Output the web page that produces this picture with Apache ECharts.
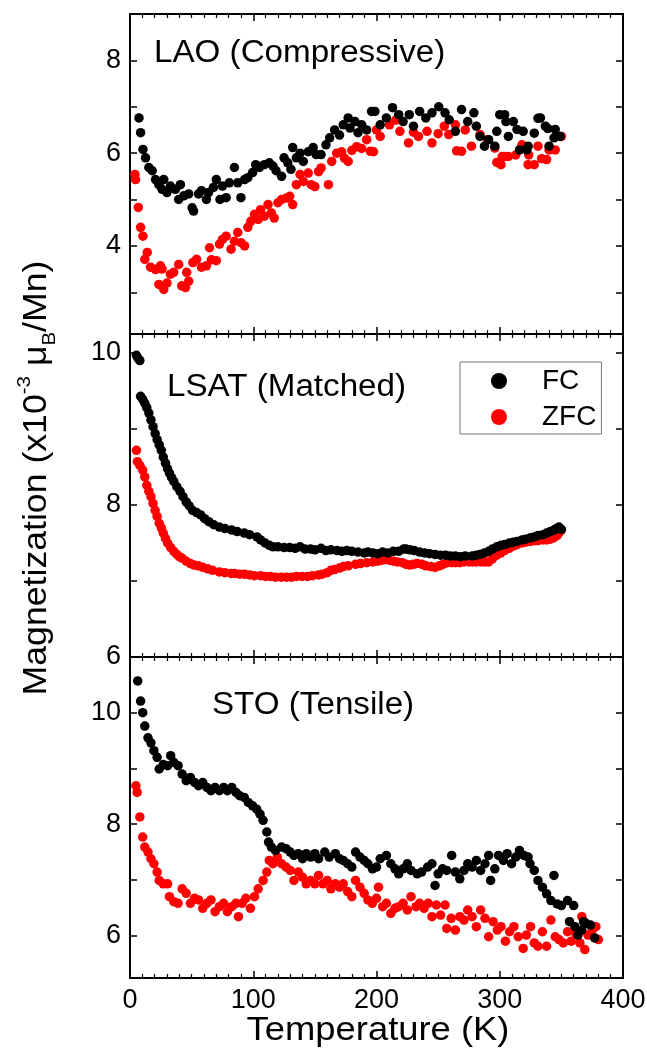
<!DOCTYPE html>
<html>
<head>
<meta charset="utf-8">
<script src="https://cdn.jsdelivr.net/npm/echarts@6/dist/echarts.min.js"></script>
<style>html,body{margin:0;padding:0;background:#fff}#c{width:647px;height:1051px}</style>
</head>
<body>
<div id="c"></div>
<script>
// ---- data: [Temperature (K), Magnetization (x10^-3 muB/Mn)] ----
const xTicks = [0, 100, 200, 300, 400];
const panelNames = ['LAO (Compressive)', 'LSAT (Matched)', 'STO (Tensile)'];

const laoFC = [[7.3,6.76],[8.6,6.44],[10.5,6.08],[12.6,5.9],[15.3,5.69],[18,5.62],[20.7,5.43],[23.4,5.32],[26,5.22],[27.4,5.43],[30,5.15],[32.8,5.29],[36.8,5.22],[39.5,5.0],[40.9,5.32],[43.6,5.08],[47.6,5.12],[50.4,4.82],[51.6,4.75],[55.6,5.12],[58,5.19],[62,5.0],[63.7,5.15],[67.7,5.26],[70,5.43],[73,5.0],[75,5.29],[78,5.04],[80.6,5.36],[84.7,5.69],[87.4,5.36],[90,5.04],[93,5.43],[95.6,5.47],[99.5,5.58],[102,5.75],[105,5.69],[109,5.75],[113,5.79],[116,5.72],[118.5,5.62],[123,5.5],[125,5.9],[128,5.79],[130.6,5.65],[132,6.12],[135,5.9],[138,6.0],[140.6,5.82],[144.6,6.03],[148.6,6.12],[151,5.97],[155,5.97],[159,6.18],[162,6.33],[166,6.5],[170,6.39],[173,6.61],[177,6.76],[178.5,6.54],[182.5,6.68],[185,6.44],[188,6.61],[192,6.5],[196,6.9],[198.7,6.9],[203,6.61],[208,6.76],[213,6.98],[218,6.83],[221.6,6.68],[226.6,6.83],[230,6.58],[235,6.9],[240,6.76],[245,6.87],[250.5,7.0],[255.6,6.87],[259,6.72],[264,6.47],[269,6.94],[274,6.68],[279,6.87],[281,6.58],[284,6.36],[287.6,6.15],[291,6.29],[296,6.15],[297.6,6.47],[300,6.83],[304,6.83],[305,6.68],[307,6.36],[311,6.68],[314,6.51],[316,6.07],[319,6.47],[322,6.07],[323,6.15],[328,6.43],[331,6.75],[333,6.76],[337,6.58],[339,6.53],[340,6.15],[344,6.33],[345,6.51],[349,6.36]];

const laoZFC = [[4,5.54],[4.5,5.43],[6.7,4.83],[8.6,4.4],[10.5,4.21],[12,3.71],[14,3.86],[16.7,3.54],[20.7,3.49],[23.4,3.17],[24.7,3.57],[26,3.5],[27.4,3.06],[30,3.2],[32.8,3.39],[35.5,3.43],[39.5,3.6],[42,3.14],[45,3.1],[46,3.43],[47.6,3.24],[51,3.64],[54,3.71],[58,3.54],[62,3.57],[64.5,3.96],[66,3.7],[70,3.68],[72.6,4.04],[75,4.14],[78,4.21],[82,3.93],[84.7,4.1],[87.4,4.29],[90,4.07],[93,4.0],[95.6,4.4],[98,4.53],[101,4.68],[104,4.57],[106,4.78],[109,4.64],[112,4.89],[114.7,4.71],[117,4.6],[120,4.93],[123,5.0],[127,5.03],[129.6,5.07],[132,4.89],[135,5.32],[138,5.54],[140.6,5.39],[144.6,5.57],[147,5.32],[150,5.28],[153,5.6],[155,5.68],[161,5.32],[163.7,5.82],[167.7,6.0],[171.7,6.03],[174,5.89],[177,5.82],[180,6.06],[184,6.14],[188,6.1],[192,6.29],[195,6.04],[197.6,6.03],[200,6.5],[203,6.36],[210.5,6.61],[215.6,6.71],[219,6.47],[226,6.22],[230,6.45],[234,6.36],[241,6.47],[245,6.22],[250,6.42],[255,6.58],[258.6,6.4],[264,6.61],[265,6.05],[269,6.04],[272,6.5],[277,6.15],[284,6.4],[290,6.29],[296,6.11],[297.6,5.8],[301,5.75],[302,5.93],[304,5.93],[307,5.93],[313,5.96],[318,6.18],[323,5.75],[323.5,5.96],[328,5.75],[331,6.15],[334,5.88],[338,5.86],[340,6.07],[345,6.07],[350,6.36]];

const lsatFC = [[5.2,9.97],[6.5,9.93],[8,9.9],[8.6,9.43],[10.3,9.39],[12,9.34],[13.6,9.28],[15.3,9.21],[17,9.12],[18.7,9.03],[20.4,8.94],[22,8.86],[23.7,8.79],[25.4,8.72],[27,8.63],[28.8,8.55],[30.4,8.48],[32,8.42],[33.8,8.36],[35.5,8.31],[38,8.24],[40.6,8.18],[43,8.11],[45.6,8.04],[48,7.99],[50.7,7.93],[54,7.9],[57.4,7.87],[60.5,7.82],[64,7.78],[68,7.74],[72.5,7.71],[77,7.69],[82.6,7.67],[87,7.65],[92.7,7.63],[97,7.61],[103,7.58],[106,7.54],[109.6,7.5],[113,7.47],[116,7.45],[120,7.45],[125,7.44],[129.6,7.44],[134,7.43],[138,7.45],[142,7.42],[146.4,7.42],[150,7.41],[155,7.43],[159,7.4],[163,7.41],[168,7.4],[172,7.39],[176,7.4],[180,7.39],[185,7.38],[190,7.37],[193,7.38],[197,7.37],[201,7.36],[205,7.38],[209,7.37],[213.6,7.39],[218,7.39],[222,7.42],[224,7.42],[227,7.41],[230.6,7.4],[235,7.38],[239,7.37],[243,7.36],[247.5,7.35],[252,7.34],[256,7.34],[260,7.33],[264,7.33],[268,7.32],[272,7.33],[277.6,7.33],[281,7.34],[284,7.35],[287.6,7.37],[291,7.39],[294,7.42],[297.6,7.45],[301,7.47],[304,7.48],[307.7,7.5],[311,7.51],[314,7.52],[318,7.54],[321,7.55],[325,7.57],[328,7.58],[331,7.6],[335,7.61],[338,7.63],[341,7.65],[344,7.67],[346,7.69],[348,7.71],[350,7.68]];

const lsatZFC = [[5.2,8.72],[6,8.57],[8,8.52],[10.3,8.46],[12,8.37],[13.6,8.26],[15.3,8.18],[17,8.11],[18.7,8.02],[20.4,7.93],[22,7.85],[23.7,7.76],[25.4,7.7],[27,7.63],[28.8,7.56],[30.5,7.5],[33,7.44],[35.5,7.39],[38,7.35],[40,7.32],[42.3,7.3],[45.6,7.26],[49,7.23],[52,7.21],[55.5,7.2],[59,7.18],[63,7.16],[67,7.14],[72.5,7.12],[77,7.11],[82,7.1],[85,7.1],[89,7.09],[93,7.09],[97,7.08],[101,7.07],[106,7.07],[110,7.06],[114,7.06],[118,7.05],[122.6,7.05],[127,7.05],[131,7.05],[135,7.06],[139.6,7.06],[144,7.06],[148,7.07],[153,7.08],[156,7.09],[160,7.11],[163,7.14],[166,7.15],[170,7.17],[173,7.19],[177,7.2],[183,7.22],[187,7.23],[192,7.24],[197,7.25],[201,7.26],[204,7.27],[207,7.28],[211,7.27],[214,7.26],[217,7.25],[221,7.24],[224,7.22],[227,7.21],[230,7.22],[233,7.23],[237,7.22],[240,7.2],[244,7.19],[247.5,7.18],[251,7.2],[254,7.22],[257.6,7.24],[261,7.24],[264,7.24],[267.6,7.24],[271,7.25],[275,7.25],[278,7.25],[281,7.25],[285,7.25],[288,7.25],[291,7.25],[294,7.29],[297.6,7.34],[301,7.37],[304,7.4],[307.7,7.43],[311,7.46],[314,7.48],[318,7.5],[321,7.51],[325,7.52],[328,7.53],[331,7.53],[335,7.54],[338,7.54],[341,7.55],[344,7.57],[346.6,7.6],[348,7.63],[350,7.67]];

const stoFC = [[6.25,10.57],[8.6,10.21],[10.3,10.0],[12,9.76],[14.6,9.55],[17,9.46],[19.4,9.32],[22,9.2],[23.7,8.99],[27,9.07],[30.5,9.05],[33,9.23],[35.5,9.11],[39,9.05],[42.3,8.9],[45.6,8.78],[49,8.84],[52.4,8.75],[55.6,8.69],[59,8.75],[62.4,8.66],[65.7,8.6],[69,8.66],[72.5,8.6],[76,8.66],[79,8.6],[82.6,8.66],[86,8.57],[89,8.51],[92.7,8.48],[96,8.39],[99.5,8.33],[102.8,8.27],[105.5,8.18],[108,8.07],[111,7.86],[112.4,7.68],[114.7,7.59],[118,7.53],[123,7.59],[126.6,7.56],[130,7.5],[133,7.44],[136.6,7.47],[140,7.38],[143,7.47],[146.6,7.41],[150,7.47],[153,7.38],[158,7.5],[161.6,7.41],[166.6,7.47],[170,7.38],[173,7.35],[176.6,7.29],[180,7.23],[183,7.5],[186.6,7.41],[190,7.35],[193,7.29],[196.7,7.2],[200,7.23],[203,7.38],[208,7.44],[211.6,7.29],[215,7.2],[218,7.11],[221.6,7.2],[225,7.29],[228,7.17],[233,7.11],[236.6,7.14],[241.5,7.23],[245,7.29],[247.5,6.9],[250,7.11],[253.6,7.2],[257,7.17],[261,7.44],[264,7.14],[267.6,7.02],[271,7.17],[274,7.29],[277.6,7.23],[281,7.35],[284.5,7.17],[288,7.29],[291,7.44],[292.6,6.99],[296,7.2],[299,7.44],[303,7.35],[306,7.47],[309.6,7.29],[313,7.41],[316,7.53],[319.6,7.44],[323,7.41],[324.6,7.29],[328,7.17],[331,6.99],[334.6,6.87],[338,6.75],[341.5,6.63],[344,7.08],[346.6,6.57],[350,6.54],[355,6.63],[356.6,6.25],[360,6.54],[361,6.16],[363.5,6.01],[366.6,6.1],[368,6.25],[370,6.22],[373.6,6.19],[377,5.96]];

const stoZFC = [[4.8,8.69],[5.8,8.57],[8,8.13],[10.3,7.77],[12,7.59],[14.6,7.5],[17,7.38],[19.4,7.29],[22,7.14],[23.7,6.99],[27,6.93],[30.5,6.93],[32,6.7],[35.5,6.61],[39,6.58],[42.3,6.84],[45.6,6.76],[49,6.58],[52.4,6.67],[55.6,6.64],[59,6.49],[62.4,6.58],[65.7,6.64],[69,6.43],[72.5,6.52],[76,6.58],[79,6.43],[82.6,6.52],[86,6.58],[88,6.34],[91,6.58],[94,6.67],[97.7,6.49],[101,6.7],[104,6.84],[108,6.99],[111,7.14],[113,7.35],[116,7.29],[119.5,7.41],[123,7.29],[126.6,7.23],[130,7.17],[133,6.99],[136.6,7.14],[140,7.05],[143,6.93],[146.6,6.99],[150,6.93],[153,7.08],[156.6,6.93],[160,6.99],[163,6.84],[166.6,6.93],[170,6.87],[173,6.93],[176.6,6.79],[180,6.7],[183,6.99],[186.6,6.87],[190,6.76],[193,6.64],[196.6,6.58],[200,6.67],[201.6,6.87],[205,6.52],[208,6.58],[211.6,6.4],[215,6.49],[218,6.52],[221.6,6.58],[225,6.46],[228,6.7],[232,6.52],[235,6.58],[238.6,6.49],[242,6.58],[245,6.34],[248.6,6.55],[252,6.37],[255.6,6.55],[257,6.13],[260.6,6.31],[264,6.1],[267.6,6.34],[271,6.28],[274,6.46],[277.6,6.34],[281,6.16],[284.5,6.46],[288,6.31],[291,5.98],[294.6,6.25],[298,6.1],[301,6.16],[304.6,5.9],[308,6.07],[311.5,6.16],[315,5.98],[319,5.77],[321.6,6.01],[325,6.16],[328,5.87],[331,5.81],[334.6,6.07],[338,5.81],[341.5,6.28],[345,5.98],[348,5.93],[351.6,5.87],[355,6.07],[358,5.9],[361.6,6.04],[365,5.87],[366.6,6.34],[369,5.75],[371.6,6.01],[375,6.1],[378,6.16],[380,5.93]];

const yRanges = [[2.1, 9], [6, 10.25], [5.24, 11]];
const yTickValues = [[3,4,5,6,7,8], [7,8,9,10], [6,7,8,9,10]];
const yLabelValues = [[4,6,8], [6,8,10], [6,8,10]];

// ---- chart ----
const FONT = 'Liberation Sans, Arial, sans-serif';
const chart = echarts.init(document.getElementById('c'), null, {renderer: 'canvas'});
const grids = [
  {left: 130, width: 493, top: 14, height: 320, outerBoundsMode: 'none', containLabel: false},
  {left: 130, width: 493, top: 334, height: 323, outerBoundsMode: 'none', containLabel: false},
  {left: 130, width: 493, top: 657, height: 321, outerBoundsMode: 'none', containLabel: false}
];
const lineStyle = {color: '#000', width: 2};
const xAxes = [], yAxes = [];
grids.forEach((g, i) => {
  [['bottom', i === 2], ['top', false]].forEach(([pos, showLab]) => {
    xAxes.push({
      type: 'value', gridIndex: i, position: pos, min: xTicks[0], max: xTicks[xTicks.length-1], interval: 100,
      axisLine: {show: true, onZero: false, lineStyle},
      axisTick: {show: true, inside: true, length: 7, lineStyle: {color: '#000', width: 1.5}},
      minorTick: {show: true, splitNumber: 10, length: 4, lineStyle: {color: '#000', width: 1.2}},
      splitLine: {show: false},
      axisLabel: {show: showLab, color: '#000', fontSize: 27, fontFamily: FONT, margin: 9}
    });
  });
  ['left', 'right'].forEach(pos => {
    yAxes.push({
      type: 'value', gridIndex: i, position: pos, min: yRanges[i][0], max: yRanges[i][1],
      axisLine: {show: true, onZero: false, lineStyle},
      axisTick: {show: true, inside: true, length: 7, customValues: yTickValues[i], lineStyle: {color: '#000', width: 1.5}},
      splitLine: {show: false},
      axisLabel: {show: pos === 'left', customValues: yLabelValues[i], color: '#000', fontSize: 27, fontFamily: FONT, margin: 9}
    });
  });
});

const seriesData = [[laoFC, laoZFC], [lsatFC, lsatZFC], [stoFC, stoZFC]];
const series = [];
seriesData.forEach((pair, i) => {
  pair.forEach((d, j) => {
    series.push({
      type: 'scatter', name: j === 0 ? 'FC' : 'ZFC', data: d,
      xAxisIndex: i * 2, yAxisIndex: i * 2,
      symbol: 'circle', symbolSize: 9.5, z: j === 0 ? 3 : 2,
      itemStyle: {color: j === 0 ? '#000000' : '#ff0000', opacity: 1},
      emphasis: {disabled: true}, animation: false
    });
  });
});

const annoPos = [[154, 53], [167, 387], [212, 705]];
const graphic = panelNames.map((t, i) => ({
  type: 'text', x: annoPos[i][0], y: annoPos[i][1], scaleX: 1.07, z: 10,
  style: {text: t, fontSize: 31, fontFamily: FONT, fill: '#000', align: 'left', verticalAlign: 'middle'}
}));
graphic.push({
  type: 'text', x: 378, y: 1031, scaleX: 1.07, z: 10,
  style: {text: 'Temperature (K)', fontSize: 34, fontFamily: FONT, fill: '#000', align: 'center', verticalAlign: 'middle'}
});
graphic.push({
  type: 'text', x: 37, y: 478, rotation: Math.PI / 2, scaleX: 1.08, z: 10,
  style: {
    text: '{a|Magnetization (x10}{s|-3}{a| μ}{b|B}{a|/Mn)}',
    align: 'center', verticalAlign: 'middle',
    rich: {
      a: {fontSize: 33, fontFamily: FONT, fill: '#000', lineHeight: 44},
      s: {fontSize: 19, fontFamily: FONT, fill: '#000', lineHeight: 20, verticalAlign: 'top'},
      b: {fontSize: 19, fontFamily: FONT, fill: '#000', lineHeight: 20, verticalAlign: 'bottom'}
    }
  }
});

chart.setOption({
  animation: false,
  backgroundColor: '#fff',
  grid: grids,
  xAxis: xAxes,
  yAxis: yAxes,
  legend: {
    data: [{name: 'FC', icon: 'circle'}, {name: 'ZFC', icon: 'circle'}],
    orient: 'vertical', left: 460, top: 362,
    itemWidth: 16, itemHeight: 16, itemGap: 8,
    padding: [5, 5, 3, 31],
    borderColor: '#777', borderWidth: 1,
    selectedMode: false,
    formatter: name => '{sp|}' + name,
    textStyle: {fontSize: 28, fontFamily: FONT, color: '#000', lineHeight: 28,
      rich: {sp: {width: 30, fontSize: 28, lineHeight: 28}}}
  },
  graphic: graphic,
  series: series
});
</script>
</body>
</html>
